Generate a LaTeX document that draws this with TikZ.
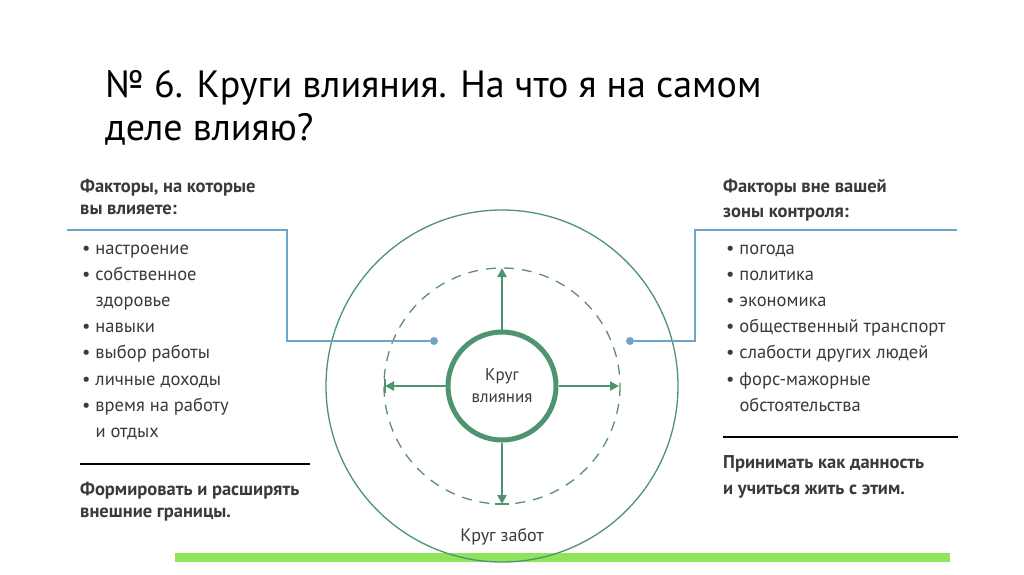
\documentclass[tikz,border=0pt]{standalone}
\usepackage{fontspec}
\setmainfont{PT Sans}
\usetikzlibrary{arrows.meta}
\definecolor{gr}{HTML}{4E9470}
\definecolor{bl}{HTML}{6FA3C8}
\definecolor{tx}{HTML}{3A3A3A}
\definecolor{bar}{HTML}{92E35C}
\tikzset{t/.style={anchor=base west,inner sep=0pt,font=\fontsize{18.5}{18}\selectfont,text=tx},
tb/.style={t,font=\fontsize{18.5}{18}\selectfont\bfseries},
ar/.style={gr,line width=2.6pt,-{Triangle[length=9pt,width=9pt]}}}
\begin{document}
\begin{tikzpicture}[x=1pt,y=-1pt]
\useasboundingbox (0,0) rectangle (1024,574);
\fill[white] (0,0) rectangle (1024,574);
\node[anchor=base west,inner sep=0pt,font=\fontsize{38}{38}\selectfont] (ti1) at (105,97) {№ 6. Круги влияния. На что я на самом};
\node[anchor=base west,inner sep=0pt,font=\fontsize{38}{38}\selectfont] (ti2) at (105,140) {деле влияю?};
\fill[bar] (175,553) rectangle (950,562);
\draw[gr,line width=1.3pt] (502,386) circle (176);
\draw[gr!70!gray,line width=1.3pt,dash pattern=on 10pt off 8pt] (502,386) circle (118);
\node[circle,draw=gr,line width=5pt,minimum size=108pt,inner sep=0pt,align=center,font=\fontsize{17}{22}\selectfont,text=tx] (c) at (502,386) {Круг\\влияния};
\coordinate (up) at (502,268); \coordinate (dn) at (502,504);
\coordinate (lf) at (385,386); \coordinate (rt) at (619,386);
\draw[ar] (c.north) -- (up);
\draw[ar] (c.south) -- (dn);
\draw[ar] (c.west) -- (lf);
\draw[ar] (c.east) -- (rt);
\draw[gr,line width=1.3pt] (495,504)--(509,504);
\draw[gr,line width=1.3pt] (385,379)--(385,393);
\node[anchor=base,inner sep=0pt,font=\fontsize{18}{18}\selectfont,text=tx] (kz) at (502,541) {Круг забот};
\node[circle,fill=bl,inner sep=0pt,minimum size=8pt] (d1) at (434,341) {};
\node[circle,fill=bl,inner sep=0pt,minimum size=8pt] (d2) at (630,341) {};
\coordinate (l0) at (67,230); \coordinate (r0) at (957,230);
\draw[bl,line width=1.5pt] (l0) -- (287,230) -- (287,341) -- (d1);
\draw[bl,line width=1.5pt] (r0) -- (695,230) -- (695,341) -- (d2);
% left
\node[tb] (lh1) at (80,192) {Факторы, на которые};
\node[tb] (lh2) at (80,214) {вы влияете:};
\foreach \s/\y in {{• настроение}/254,{• собственное}/280,{\phantom{• }здоровье}/306,{• навыки}/332,{• выбор работы}/358,{• личные доходы}/385,{• время на работу}/411,{\phantom{• }и отдых}/437}
 \node[t] at (82,\y) {\s};
\draw[black,line width=1.5pt] (80,464) -- (310,464);
\node[tb] (lb1) at (80,495) {Формировать и расширять};
\node[tb] (lb2) at (80,517) {внешние границы.};
% right
\node[tb] (rh1) at (723,192) {Факторы вне вашей};
\node[tb] (rh2) at (723,217) {зоны контроля:};
\foreach \s/\y in {{• погода}/254,{• политика}/280,{• экономика}/306,{• общественный транспорт}/332,{• слабости других людей}/358,{• форс-мажорные}/385,{\phantom{• }обстоятельства}/411}
 \node[t] at (726,\y) {\s};
\draw[black,line width=1.5pt] (723,437) -- (958,437);
\node[tb] (rb1) at (723,468) {Принимать как данность};
\node[tb] (rb2) at (723,494) {и учиться жить с этим.};
\end{tikzpicture}
\end{document}
